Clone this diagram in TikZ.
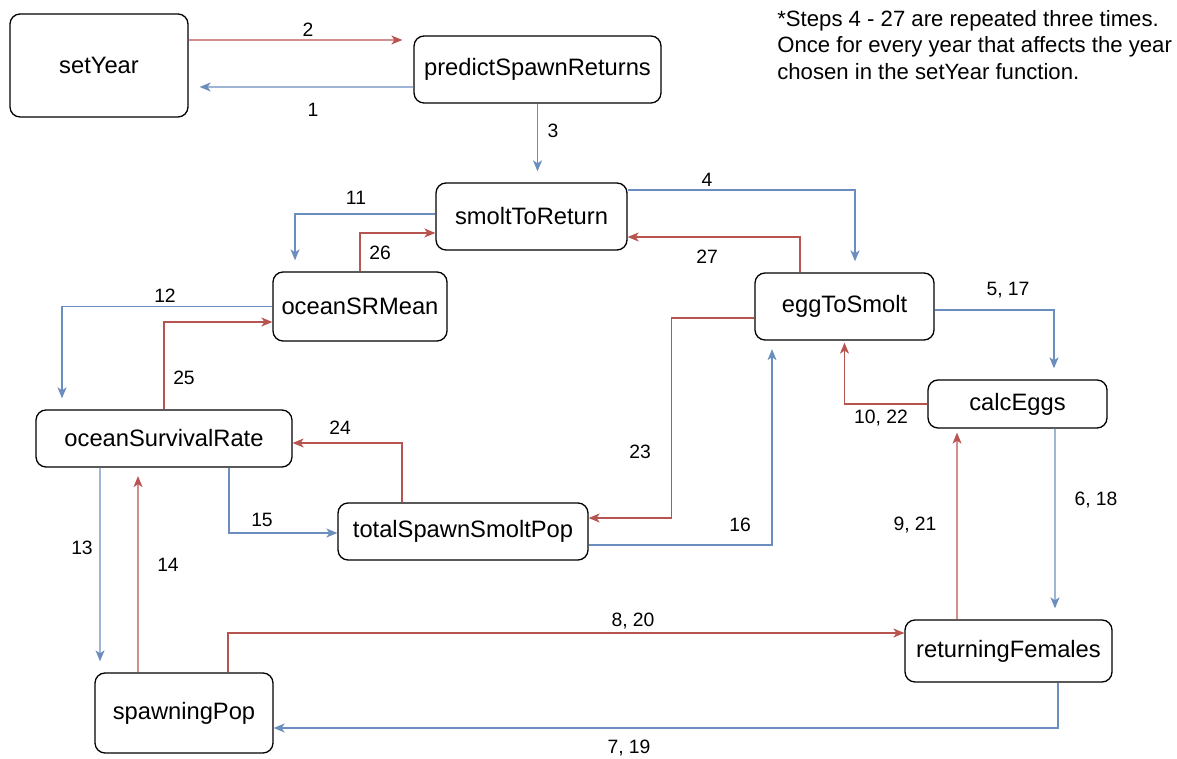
\documentclass[tikz,border=0pt]{standalone}
\usepackage{fontspec}
\setmainfont{Liberation Sans}
\usepackage{tikz}
\usetikzlibrary{shapes,arrows.meta}

\definecolor{myred}{HTML}{B85450}
\definecolor{myblue}{HTML}{6C8EBF}

\tikzset{
  box/.style={draw, rounded corners=0.2cm, line width=0.75pt, inner sep=0pt,
    font=\fontsize{13.5}{16}\selectfont},
  lbl/.style={inner sep=0pt, font=\fontsize{11}{13}\selectfont},
  rd/.style={draw=myred, line width=0.7pt, -{Stealth[length=0.22cm,width=0.18cm,inset=0.06cm]}},
  bl/.style={draw=myblue, line width=0.7pt, -{Stealth[length=0.22cm,width=0.18cm,inset=0.06cm]}},
  gap/.style={shorten >=0.22cm}
}

\begin{document}
\begin{tikzpicture}[x=0.02cm, y=-0.02cm]
        \useasboundingbox (0,0) rectangle (1177,759);
        % boxes
        \node[box, minimum width=3.56cm, minimum height=2.06cm] (setyear) at (99,65.5) {setYear};
        \node[box, minimum width=4.94cm, minimum height=1.34cm] (predict) at (537.5,69.5) {predictSpawnReturns};
        \node[box, minimum width=3.82cm, minimum height=1.34cm] (smolt) at (531.5,216.5) {smoltToReturn};
        \node[box, minimum width=3.48cm, minimum height=1.38cm] (srmean) at (360,306.5) {oceanSRMean};
        \node[box, minimum width=3.58cm, minimum height=1.34cm] (egg) at (844.5,306.5) {eggToSmolt};
        \node[box, minimum width=5.12cm, minimum height=1.14cm] (osr) at (164,438.5) {oceanSurvivalRate};
        \node[box, minimum width=3.58cm, minimum height=0.96cm] (calc) at (1017.5,404) {calcEggs};
        \node[box, minimum width=5cm, minimum height=1.14cm] (total) at (463,531.5) {totalSpawnSmoltPop};
        \node[box, minimum width=3.56cm, minimum height=1.6cm] (spawn) at (184,713) {spawningPop};
        \node[box, minimum width=4.14cm, minimum height=1.24cm] (females) at (1008.5,651) {returningFemales};
        % note
        \node[anchor=north west, align=left, inner sep=0pt, font=\fontsize{12.6}{15}\selectfont]
          (note) at (777,10) {*Steps 4 - 27 are repeated three times.\\
          Once for every year that affects the year\\
          chosen in the setYear function.};
        % calls (blue)
        \draw[bl,gap] ([yshift=-.35cm]predict.west) -- ([yshift=-.43cm]setyear.east); % 1
        \draw[bl,gap] (predict.south) -- (predict.south |- smolt.north); % 3
        \draw[bl,gap] ([yshift=.53cm]smolt.east) -| ([xshift=.21cm]egg.north); % 4
        \draw[bl,gap] ([yshift=.05cm]smolt.west) -| ([xshift=-1.3cm]srmean.north); % 11
        \draw[bl,gap] (srmean.west) -| ([xshift=-2.04cm]osr.north); % 12
        \draw[bl,gap] ([xshift=-1.28cm]osr.south) -- ([xshift=-1.68cm]spawn.north); % 13
        \draw[bl] ([xshift=1.3cm]osr.south) |- ([yshift=-.03cm]total.west); % 15
        \draw[bl,shorten >=0.17cm] ([yshift=-.27cm]total.east) -| ([xshift=-1.45cm]egg.south); % 16
        \draw[bl,gap] ([yshift=-.07cm]egg.east) -| ([xshift=.73cm]calc.north); % 5, 17
        \draw[bl,gap] ([xshift=.75cm]calc.south) -- ([xshift=.93cm]females.north); % 6, 18
        \draw[bl] ([xshift=.99cm]females.south) |- ([yshift=-.3cm]spawn.east); % 7, 19
        % returns (red)
        \draw[rd,gap] ([yshift=.51cm]setyear.east) -- ([yshift=.59cm]predict.west); % 2
        \draw[rd] ([xshift=.88cm]spawn.north) |- ([yshift=.36cm]females.west); % 8, 20
        \draw[rd,shorten >=0.08cm] ([xshift=-1.03cm]females.north) -- ([xshift=-1.21cm]calc.south); % 9, 21
        \draw[rd,shorten >=0.04cm] (calc.west) -| (egg.south); % 10, 22
        \draw[rd,shorten >=0.17cm] ([xshift=-.92cm]spawn.north) -- ([xshift=-.52cm]osr.south); % 14
        \draw[rd] ([yshift=-.23cm]egg.west) -- ++(-83,0) |- ([yshift=.27cm]total.east); % 23
        \draw[rd] ([xshift=-1.22cm]total.north) |- ([yshift=-.09cm]osr.east); % 24
        \draw[rd] (osr.north) |- ([yshift=-.31cm]srmean.west); % 25
        \draw[rd] (srmean.north) |- ([yshift=-.33cm]smolt.west); % 26
        \draw[rd] ([xshift=-.89cm]egg.north) |- ([yshift=-.41cm]smolt.east); % 27
        % step numbers
        \node[lbl] (l1) at (313,110) {1};
        \node[lbl] (l2) at (308,30) {2};
        \node[lbl] (l3) at (553,131) {3};
        \node[lbl] (l4) at (707,180) {4};
        \node[lbl] (l517) at (1008,290) {5, 17};
        \node[lbl] (l618) at (1096,500) {6, 18};
        \node[lbl] (l719) at (629,748) {7, 19};
        \node[lbl] (l820) at (633,621) {8, 20};
        \node[lbl] (l921) at (915,525) {9, 21};
        \node[lbl] (l1022) at (881,418) {10, 22};
        \node[lbl] (l11) at (356,198) {11};
        \node[lbl] (l12) at (165,296) {12};
        \node[lbl] (l13) at (82,548) {13};
        \node[lbl] (l14) at (168,565) {14};
        \node[lbl] (l15) at (262,520) {15};
        \node[lbl] (l16) at (740,525) {16};
        \node[lbl] (l23) at (640,452) {23};
        \node[lbl] (l24) at (340,428) {24};
        \node[lbl] (l25) at (184,378) {25};
        \node[lbl] (l26) at (380,253) {26};
        \node[lbl] (l27) at (707,257) {27};
\end{tikzpicture}
\end{document}
